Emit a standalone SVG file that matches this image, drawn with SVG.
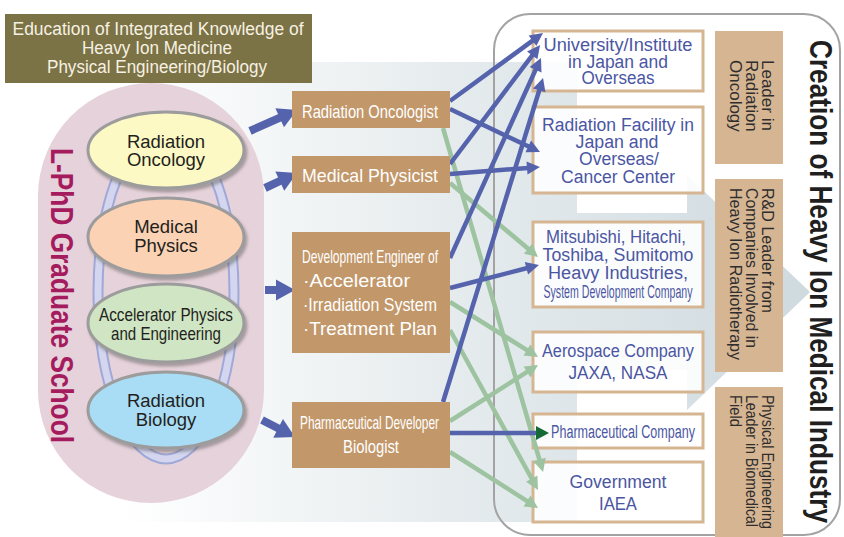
<svg xmlns="http://www.w3.org/2000/svg" width="844" height="537" viewBox="0 0 844 537">
<defs>
<style>
text{font-family:"Liberation Sans",Arial,sans-serif}
.ttl{fill:#f6f1e2;font-size:18px;text-anchor:middle}
.ell{fill:#231f20;text-anchor:middle;font-size:18.5px}
.mid{fill:#ffffff;font-size:19px}
.rb{fill:#ffffff;fill-opacity:0.88;stroke:#d5b592;stroke-width:3}
.rt{fill:#4b56a3;font-size:18px;text-anchor:middle}
.tan{fill:#d6b593}
.tt{fill:#2e2e2e;font-size:17px}
.mbox{fill:#c2976a}
.blue{stroke:#5563ad;stroke-width:4.5;fill:none;marker-end:url(#hb)}
.green{stroke:#9dc3a0;stroke-width:4.5;fill:none;marker-end:url(#hg)}
.big{stroke:#5563ad;stroke-width:8;fill:none;marker-end:url(#hbig)}
</style>
<linearGradient id="pg" gradientUnits="userSpaceOnUse" x1="0" y1="0" x2="810" y2="0">
<stop offset="0.15" stop-color="#ffffff"/>
<stop offset="0.55" stop-color="#e6ecee"/>
<stop offset="1" stop-color="#cfdadf"/>
</linearGradient>
<filter id="sh" x="-20%" y="-20%" width="150%" height="150%">
<feDropShadow dx="2" dy="3" stdDeviation="1.8" flood-color="#555" flood-opacity="0.45"/>
</filter>
<marker id="hb" markerUnits="userSpaceOnUse" markerWidth="14" markerHeight="14" refX="1" refY="0" orient="auto" overflow="visible">
<path d="M0,-6.5 L13,0 L0,6.5 Z" fill="#5563ad"/>
</marker>
<marker id="hg" markerUnits="userSpaceOnUse" markerWidth="14" markerHeight="14" refX="1" refY="0" orient="auto" overflow="visible">
<path d="M0,-6.5 L13,0 L0,6.5 Z" fill="#9dc3a0"/>
</marker>
<marker id="hdg" markerUnits="userSpaceOnUse" markerWidth="14" markerHeight="14" refX="1" refY="0" orient="auto" overflow="visible">
<path d="M0,-7 L13,0 L0,7 Z" fill="#146b35"/>
</marker>
<marker id="hbig" markerUnits="userSpaceOnUse" markerWidth="20" markerHeight="22" refX="1" refY="0" orient="auto" overflow="visible">
<path d="M0,-10.5 L19,0 L0,10.5 Z" fill="#5563ad"/>
</marker>
</defs>

<!-- background arrow panel -->
<path d="M0,62 H577 V213 H687 V175 L810,292 L687,410 V370 H577 V522 H0 Z" fill="url(#pg)"/>

<!-- outer rounded frame -->
<rect x="494" y="14" width="346" height="521" rx="36" ry="36" fill="none" stroke="#a3a3a3" stroke-width="2"/>

<!-- title box -->
<g id="title">
<rect x="5" y="14" width="307" height="69" fill="#7b7245"/>
<text class="ttl" x="158" y="35" textLength="291" lengthAdjust="spacingAndGlyphs">Education of Integrated Knowledge of</text>
<text class="ttl" x="157" y="54" textLength="150" lengthAdjust="spacingAndGlyphs">Heavy Ion Medicine</text>
<text class="ttl" x="157" y="73" textLength="220" lengthAdjust="spacingAndGlyphs">Physical Engineering/Biology</text>
</g>

<!-- graduate school -->
<g id="school">
<rect x="38" y="83" width="226" height="420" rx="113" ry="113" fill="#e6d2da"/>
<text transform="translate(51,148) rotate(90)" fill="#a51c5e" font-size="31" font-weight="bold" textLength="295" lengthAdjust="spacingAndGlyphs">L-PhD Graduate School</text>
<ellipse cx="166" cy="293" rx="68" ry="166" fill="none" stroke="#a0a8d8" stroke-width="11"/>
<ellipse cx="166" cy="293" rx="68" ry="166" fill="none" stroke="#d3d6ee" stroke-width="7"/>
</g>

<g id="radiation-oncology">
<ellipse cx="166" cy="150" rx="78" ry="38" fill="#fdf9c4" stroke="#9c9c9c" stroke-width="3" filter="url(#sh)"/>
<text class="ell" x="166" y="148">Radiation</text>
<text class="ell" x="166" y="166">Oncology</text>
</g>
<g id="medical-physics">
<ellipse cx="166" cy="237" rx="78" ry="39" fill="#fbd2b3" stroke="#9c9c9c" stroke-width="3" filter="url(#sh)"/>
<text class="ell" x="166" y="233">Medical</text>
<text class="ell" x="166" y="252">Physics</text>
</g>
<g id="accelerator">
<ellipse cx="166" cy="323" rx="78" ry="39" fill="#d0e5c4" stroke="#9c9c9c" stroke-width="3" filter="url(#sh)"/>
<text class="ell" x="166" y="321" font-size="17" textLength="134" lengthAdjust="spacingAndGlyphs">Accelerator Physics</text>
<text class="ell" x="166" y="340" font-size="17" textLength="110" lengthAdjust="spacingAndGlyphs">and Engineering</text>
</g>
<g id="radiation-biology">
<ellipse cx="166" cy="410" rx="78" ry="38" fill="#a9ddf5" stroke="#9c9c9c" stroke-width="3" filter="url(#sh)"/>
<text class="ell" x="166" y="407">Radiation</text>
<text class="ell" x="166" y="426">Biology</text>
</g>

<!-- right boxes -->
<g id="university">
<rect class="rb" x="533" y="31" width="170" height="60"/>
<text class="rt" x="618" y="51" textLength="149" lengthAdjust="spacingAndGlyphs">University/Institute</text>
<text class="rt" x="618" y="68" textLength="100" lengthAdjust="spacingAndGlyphs">in Japan and</text>
<text class="rt" x="618" y="84" textLength="73" lengthAdjust="spacingAndGlyphs">Overseas</text>
</g>
<g id="radiation-facility">
<rect class="rb" x="533" y="107" width="170" height="86"/>
<text class="rt" x="618" y="131" textLength="152" lengthAdjust="spacingAndGlyphs">Radiation Facility in</text>
<text class="rt" x="617" y="148" textLength="83" lengthAdjust="spacingAndGlyphs">Japan and</text>
<text class="rt" x="619" y="165" textLength="80" lengthAdjust="spacingAndGlyphs">Overseas/</text>
<text class="rt" x="618" y="183" textLength="114" lengthAdjust="spacingAndGlyphs">Cancer Center</text>
</g>
<g id="companies">
<rect class="rb" x="533" y="222" width="170" height="85"/>
<text class="rt" x="616" y="243" textLength="140" lengthAdjust="spacingAndGlyphs">Mitsubishi, Hitachi,</text>
<text class="rt" x="618" y="261" textLength="151" lengthAdjust="spacingAndGlyphs">Toshiba, Sumitomo</text>
<text class="rt" x="618" y="279" textLength="140" lengthAdjust="spacingAndGlyphs">Heavy Industries,</text>
<text class="rt" x="618" y="298" font-size="15" textLength="149" lengthAdjust="spacingAndGlyphs">System Development Company</text>
</g>
<g id="aerospace">
<rect class="rb" x="533" y="332" width="170" height="60"/>
<text class="rt" x="618" y="357" textLength="152" lengthAdjust="spacingAndGlyphs">Aerospace Company</text>
<text class="rt" x="618" y="379" textLength="99" lengthAdjust="spacingAndGlyphs">JAXA, NASA</text>
</g>
<g id="pharmaceutical-company">
<rect class="rb" x="533" y="414" width="170" height="34"/>
<text class="rt" x="623" y="438" font-size="16.5" textLength="144" lengthAdjust="spacingAndGlyphs">Pharmaceutical Company</text>
</g>
<g id="government">
<rect class="rb" x="533" y="462" width="170" height="60"/>
<text class="rt" x="618" y="488" textLength="97" lengthAdjust="spacingAndGlyphs">Government</text>
<text class="rt" x="618" y="510" textLength="38" lengthAdjust="spacingAndGlyphs">IAEA</text>
</g>

<!-- connectors -->
<g id="connectors">
<line class="big" x1="250" y1="131" x2="280.6" y2="117.3"/>
<line class="big" x1="265" y1="188" x2="280.7" y2="180.7"/>
<line class="big" x1="265" y1="290" x2="277" y2="290"/>
<line class="big" x1="262" y1="420" x2="279" y2="428.8"/>

<line class="green" x1="443" y1="128" x2="539.7" y2="460.5"/>
<line class="green" x1="450" y1="183" x2="528.8" y2="249.3"/>
<line class="green" x1="450" y1="302" x2="527.8" y2="350.6"/>
<line class="green" x1="450" y1="330" x2="532.2" y2="479.5"/>
<line class="green" x1="450" y1="421" x2="527.9" y2="371.4"/>
<line class="green" x1="450" y1="452" x2="527.9" y2="501.6"/>

<line class="blue" x1="450" y1="101" x2="533.3" y2="40.1"/>
<line class="blue" x1="450" y1="109" x2="529.2" y2="146.8"/>
<line class="blue" x1="450" y1="164" x2="532.8" y2="54.6"/>
<line class="blue" x1="450" y1="174" x2="528" y2="167.9"/>
<line class="blue" x1="450" y1="258" x2="536" y2="68.9"/>
<line class="blue" x1="450" y1="288" x2="527.4" y2="268"/>
<line class="blue" x1="443" y1="402" x2="539.5" y2="89.5"/>
<line x1="450" y1="433" x2="537" y2="433" stroke="#5563ad" stroke-width="4.5" marker-end="url(#hdg)"/>
</g>

<!-- middle boxes -->
<g id="radiation-oncologist">
<rect class="mbox" x="292" y="91" width="158" height="37"/>
<text class="mid" x="302" y="118" textLength="136" lengthAdjust="spacingAndGlyphs">Radiation Oncologist</text>
</g>
<g id="medical-physicist">
<rect class="mbox" x="292" y="156" width="158" height="37"/>
<text class="mid" x="302" y="182" font-size="20" textLength="136" lengthAdjust="spacingAndGlyphs">Medical Physicist</text>
</g>
<g id="development-engineer">
<rect class="mbox" x="292" y="232" width="158" height="121"/>
<text class="mid" x="302" y="263" font-size="17" textLength="136" lengthAdjust="spacingAndGlyphs">Development Engineer of</text>
<text class="mid" x="303" y="287" font-size="20" textLength="107" lengthAdjust="spacingAndGlyphs">·Accelerator</text>
<text class="mid" x="303" y="311" font-size="18.5" textLength="134" lengthAdjust="spacingAndGlyphs">·Irradiation System</text>
<text class="mid" x="303" y="335" font-size="20" textLength="134" lengthAdjust="spacingAndGlyphs">·Treatment Plan</text>
</g>
<g id="pharmaceutical-developer">
<rect class="mbox" x="292" y="402" width="158" height="66"/>
<text class="mid" x="300" y="429" font-size="18" textLength="139" lengthAdjust="spacingAndGlyphs">Pharmaceutical Developer</text>
<text class="mid" x="371" y="453" font-size="19" style="text-anchor:middle" textLength="56" lengthAdjust="spacingAndGlyphs">Biologist</text>
</g>

<!-- tan leader boxes -->
<g id="leader-oncology">
<rect class="tan" x="715" y="31" width="68" height="133"/>
<text class="tt" transform="translate(762,60) rotate(90)">Leader in</text>
<text class="tt" transform="translate(746,60) rotate(90)">Radiation</text>
<text class="tt" transform="translate(730,60) rotate(90)">Oncology</text>
</g>
<g id="leader-rd">
<rect class="tan" x="715" y="179" width="68" height="193"/>
<text class="tt" transform="translate(762,188) rotate(90)" textLength="125" lengthAdjust="spacingAndGlyphs">R&amp;D Leader from</text>
<text class="tt" transform="translate(746,188) rotate(90)" textLength="160" lengthAdjust="spacingAndGlyphs">Companies Involved in</text>
<text class="tt" transform="translate(730,188) rotate(90)" textLength="172" lengthAdjust="spacingAndGlyphs">Heavy Ion Radiotherapy</text>
</g>
<g id="leader-physical">
<rect class="tan" x="715" y="387" width="68" height="153"/>
<text class="tt" transform="translate(762,395) rotate(90)" textLength="134" lengthAdjust="spacingAndGlyphs">Physical Engineering</text>
<text class="tt" transform="translate(746,395) rotate(90)" textLength="132" lengthAdjust="spacingAndGlyphs">Leader in Biomedical</text>
<text class="tt" transform="translate(730,395) rotate(90)" textLength="32" lengthAdjust="spacingAndGlyphs">Field</text>
</g>

<g id="industry-title">
<text transform="translate(810,40) rotate(90)" fill="#1f1f1f" font-size="32" font-weight="bold" textLength="483" lengthAdjust="spacingAndGlyphs">Creation of Heavy Ion Medical Industry</text>
</g>
</svg>
